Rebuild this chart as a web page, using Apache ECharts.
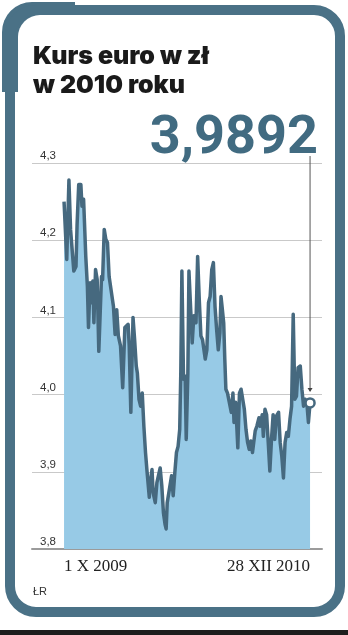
<!DOCTYPE html>
<html lang="pl">
<head>
    <meta charset="UTF-8">
    <title>Kurs euro w zł w 2010 roku</title>
    <script src="https://cdn.jsdelivr.net/npm/echarts@6/dist/echarts.min.js"></script>
    <style>
        html, body { margin: 0; padding: 0; background: #fff; }
    </style>
</head>
<body>
    <div id="main" style="width: 348px; height: 635px;"></div>

    <script>
        // Days counted from 1 X 2009
        var dayOffsets = [
            0, 5, 9, 12, 15, 18, 22, 24, 27, 31,
            33, 36, 40, 43, 45, 48, 50, 53, 55, 58,
            61, 64, 69, 71, 74, 77, 80, 83, 86, 91,
            94, 97, 100, 104, 108, 112, 115, 118, 120, 123,
            127, 130, 133, 135, 138, 141, 144, 147, 150, 153,
            157, 158, 162, 164, 168, 171, 174, 177, 180, 183,
            186, 188, 190, 193, 198, 201, 204, 207, 210, 213,
            215, 217, 220, 223, 225, 228, 230, 233, 236, 239,
            243, 246, 249, 252, 255, 260, 263, 266, 269, 272,
            275, 278, 281, 284, 287, 289, 291, 294, 296, 298,
            301, 304, 308, 311, 313, 316, 320, 323, 326, 329,
            332, 335, 338, 341, 344, 347, 350, 352, 355, 359,
            361, 365, 367, 370, 373, 376, 379, 382, 385, 388,
            391, 395, 398, 401, 404, 407, 410, 413, 416, 419,
            422, 425, 428, 431, 435, 438, 441, 444, 447, 450,
            453
        ];

        // EUR/PLN rate
        var rates = [
            4.250, 4.175, 4.278, 4.214, 4.212, 4.160, 4.166, 4.220, 4.272, 4.272,
            4.244, 4.253, 4.179, 4.140, 4.087, 4.145, 4.119, 4.147, 4.093, 4.162,
            4.149, 4.056, 4.153, 4.149, 4.214, 4.201, 4.197, 4.153, 4.152, 4.114,
            4.078, 4.110, 4.076, 4.063, 4.009, 4.087, 4.089, 4.091, 4.063, 3.977,
            4.100, 4.071, 4.037, 4.028, 3.994, 3.985, 4.002, 3.959, 3.925, 3.899,
            3.867, 3.882, 3.903, 3.873, 3.860, 3.886, 3.884, 3.905, 3.882, 3.847,
            3.832, 3.826, 3.860, 3.873, 3.895, 3.869, 3.899, 3.925, 3.933, 3.955,
            4.029, 4.160, 4.020, 4.024, 3.942, 4.028, 4.160, 4.162, 4.067, 4.102,
            4.093, 4.179, 4.123, 4.076, 4.071, 4.046, 4.058, 4.119, 4.127, 4.162,
            4.171, 4.114, 4.084, 4.058, 4.080, 4.127, 4.114, 4.093, 4.046, 4.007,
            4.002, 4.002, 3.977, 4.002, 3.964, 3.990, 3.931, 4.002, 4.007, 3.994,
            3.981, 3.955, 3.938, 3.929, 3.940, 3.925, 3.942, 3.953, 3.959, 3.970,
            3.959, 3.974, 3.946, 3.981, 3.974, 3.938, 3.901, 3.942, 3.974, 3.942,
            3.972, 3.977, 3.938, 3.920, 3.892, 3.938, 3.951, 3.946, 3.968, 3.985,
            4.104, 3.994, 3.998, 4.035, 4.037, 4.007, 3.985, 3.994, 3.990, 3.964,
            3.9892
        ];

        // Date labels under the axis and the day they belong to
        var xLabelDays = [0, 453];
        var xLabels = ['1 X 2009', '28 XII 2010'];

        var titleLines = ['Kurs euro w zł', 'w 2010 roku'];
        var sourceText = 'ŁR';

        var frameColor = '#4a7186';
        var lineColor = '#46697f';

        var chart = echarts.init(document.getElementById('main'));

        var seriesData = dayOffsets.map(function (d, i) { return [d, rates[i]]; });
        var last = seriesData[seriesData.length - 1];
        var lastText = last[1].toFixed(4).replace('.', ',');

        function dateAxis(labelIdx, align, showLine) {
            return {
                type: 'value',
                min: -59,
                max: 475,
                position: 'bottom',
                axisLine: { show: showLine, onZero: false, lineStyle: { color: '#9b9b9b', width: 2 } },
                axisTick: { show: false },
                splitLine: { show: false },
                axisLabel: {
                    customValues: [xLabelDays[labelIdx]],
                    formatter: function () { return xLabels[labelIdx]; },
                    align: align,
                    margin: 9,
                    color: '#222',
                    fontFamily: 'Liberation Serif',
                    fontSize: 17
                }
            };
        }

        var option = {
            animation: false,
            grid: { left: 32, right: 26, top: 163, bottom: 86 },
            xAxis: [dateAxis(0, 'left', true), dateAxis(1, 'right', false)],
            yAxis: {
                type: 'value',
                min: 3.8,
                max: 4.3,
                interval: 0.1,
                axisLine: { show: false },
                axisTick: { show: false },
                splitLine: { lineStyle: { color: '#c9c9c9', width: 1 } },
                axisLabel: {
                    inside: true,
                    margin: 8,
                    verticalAlign: 'bottom',
                    padding: [0, 0, 1, 0],
                    color: '#333',
                    fontFamily: 'Liberation Sans',
                    fontSize: 11.5,
                    formatter: function (v) { return v.toFixed(1).replace('.', ','); }
                }
            },
            series: [{
                type: 'line',
                xAxisIndex: 0,
                data: seriesData,
                showSymbol: false,
                lineStyle: { color: lineColor, width: 3.5, join: 'round' },
                areaStyle: { color: '#97cae6', opacity: 1, origin: 'start' },
                z: 2
            }, {
                type: 'scatter',
                xAxisIndex: 0,
                data: [last],
                symbol: 'circle',
                symbolSize: 9,
                itemStyle: { color: '#fff', borderColor: lineColor, borderWidth: 2.5, opacity: 1 },
                z: 4
            }],
            graphic: [
                // thicker tab in the top-left corner
                {
                    id: 'tab', type: 'rect', z: 0,
                    shape: { x: 2, y: 2, width: 73, height: 90, r: [30, 0, 0, 0] },
                    style: { fill: frameColor },
                    silent: true
                },
                {
                    id: 'tabInner', type: 'rect', z: 1,
                    shape: { x: 18, y: 15, width: 90, height: 110, r: [22, 0, 0, 0] },
                    style: { fill: '#ffffff' },
                    silent: true
                },
                // rounded frame
                {
                    id: 'frame', type: 'rect', z: 2,
                    shape: { x: 10, y: 10, width: 330, height: 602, r: 26 },
                    style: { fill: null, stroke: frameColor, lineWidth: 10 },
                    silent: true
                },
                {
                    id: 'title', type: 'text', z: 3,
                    left: 33, top: 42,
                    style: {
                        text: titleLines.join('\n'),
                        font: '900 25px Inter',
                        lineHeight: 29,
                        fill: '#1a1a1a'
                    }
                },
                {
                    id: 'bigValue', type: 'text', z: 3,
                    right: 30, top: 112,
                    style: {
                        text: lastText,
                        font: '700 54px Roboto',
                        fill: '#416b81'
                    }
                },
                {
                    id: 'source', type: 'text', z: 3,
                    left: 33, top: 586,
                    style: { text: sourceText, font: '11px "Liberation Sans"', fill: '#333' }
                },
                {
                    id: 'bottomBar', type: 'rect', z: 3,
                    shape: { x: 0, y: 630, width: 348, height: 5 },
                    style: { fill: '#1d1d1d' },
                    silent: true
                }
            ]
        };

        chart.setOption(option);

        // pointer from the big number down to the last point
        var pt = chart.convertToPixel({ xAxisIndex: 0, yAxisIndex: 0 }, last);
        chart.setOption({
            graphic: [{
                id: 'pointerLine', type: 'line', z: 3,
                shape: { x1: pt[0], y1: 156, x2: pt[0], y2: pt[1] - 12 },
                style: { stroke: '#555', lineWidth: 1 },
                silent: true
            }, {
                id: 'pointerHead', type: 'polygon', z: 3,
                shape: { points: [[pt[0] - 2.5, pt[1] - 15], [pt[0] + 2.5, pt[1] - 15], [pt[0], pt[1] - 11]] },
                style: { fill: '#444' },
                silent: true
            }]
        });
    </script>
</body>
</html>
